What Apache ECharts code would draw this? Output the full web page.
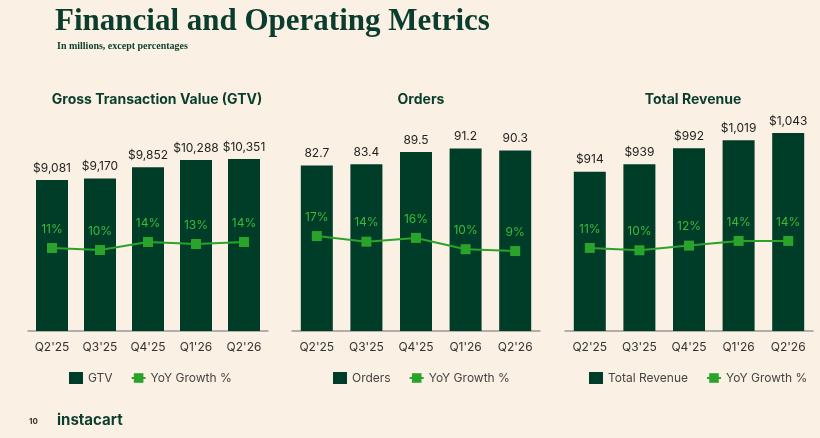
<!DOCTYPE html><html><head><meta charset="utf-8"><script src="https://cdn.jsdelivr.net/npm/echarts@6/dist/echarts.min.js"></script>
<style>body{margin:0;background:#FAF1E4}#c{width:820px;height:438px}</style></head><body><div id="c"></div><script>
const categories=["Q2'25","Q3'25","Q4'25","Q1'26","Q2'26"];
const gtv=[9081,9170,9852,10288,10351];
const gtvYoY=[11,10,14,13,14];
const orders=[82.7,83.4,89.5,91.2,90.3];
const ordersYoY=[17,14,16,10,9];
const revenue=[914,939,992,1019,1043];
const revenueYoY=[11,10,12,14,14];
const dark='#003D29',green='#2AA32A',lg='#3DB83A',ff='Inter, sans-serif';
const grids=[{left:28,right:552},{left:292,right:280},{left:565,right:7}].map(g=>({left:g.left,right:g.right,top:100,bottom:107}));
const panels=[
 {name:'GTV',title:'Gross Transaction Value (GTV)',bars:gtv,yoy:gtvYoY,fmt:v=>'$'+v.toLocaleString('en-US'),bmin:0,bmax:13900,lmin:-30.5,lmax:85},
 {name:'Orders',title:'Orders',bars:orders,yoy:ordersYoY,fmt:v=>v.toFixed(1),bmin:0,bmax:115.5,lmin:-33.6,lmax:89.5},
 {name:'Total Revenue',title:'Total Revenue',bars:revenue,yoy:revenueYoY,fmt:v=>'$'+v.toLocaleString('en-US'),bmin:387,bmax:1152,lmin:-24.6,lmax:74.4}];
const centers=[152,416,688];
const opt={backgroundColor:'#FAF1E4',animation:false,grid:grids,xAxis:[],yAxis:[],series:[],legend:[],
title:[{text:'Financial and Operating Metrics',left:50,top:1,textStyle:{fontFamily:'Liberation Serif, serif',fontWeight:'bold',fontSize:31,color:'#0B3D2E'}},
{text:'In millions, except percentages',left:52,top:36,textStyle:{fontFamily:'Liberation Serif, serif',fontWeight:'bold',fontSize:10,color:'#0B3D2E'}},
{text:'10',left:24,top:413,textStyle:{fontSize:8,color:'#333',fontFamily:ff}},
{text:'instacart',left:52,top:408,textStyle:{fontSize:15,fontWeight:'bold',color:'#0B3D2E',fontFamily:ff}}]};
panels.forEach((p,i)=>{
 opt.title.push({text:p.title,left:centers[i],top:88,textAlign:'center',textStyle:{fontFamily:ff,fontWeight:'bold',fontSize:14,color:'#0B3D2E'}});
 opt.xAxis.push({type:'category',gridIndex:i,data:categories,axisTick:{show:false},axisLine:{onZero:false,lineStyle:{color:'#999',width:1.5}},axisLabel:{interval:0,color:'#333',fontSize:12,fontFamily:ff,margin:10}});
 opt.yAxis.push({type:'value',gridIndex:i,min:p.bmin,max:p.bmax,show:false});
 opt.yAxis.push({type:'value',gridIndex:i,min:p.lmin,max:p.lmax,show:false});
 opt.series.push({name:p.name,type:'bar',xAxisIndex:i,yAxisIndex:2*i,data:p.bars,barWidth:32,itemStyle:{color:dark},label:{show:true,position:'top',distance:6,color:'#222',fontSize:12,fontFamily:ff,formatter:o=>p.fmt(o.value)}});
 opt.series.push({name:'YoY Growth %',type:'line',xAxisIndex:i,yAxisIndex:2*i+1,data:p.yoy,symbol:'rect',symbolSize:10,lineStyle:{color:green,width:2},itemStyle:{color:green},label:{show:true,position:'top',distance:8,color:lg,fontSize:12,fontFamily:ff,formatter:o=>o.value+'%'}});
 opt.legend.push({data:[{name:p.name,icon:'rect'},{name:'YoY Growth %'}],left:[64,328,584][i],top:367,width:260,itemWidth:14,itemHeight:12,itemGap:18,textStyle:{color:'#444',fontSize:12,fontFamily:ff},selectedMode:false});
});
echarts.init(document.getElementById('c')).setOption(opt);
</script></body></html>
